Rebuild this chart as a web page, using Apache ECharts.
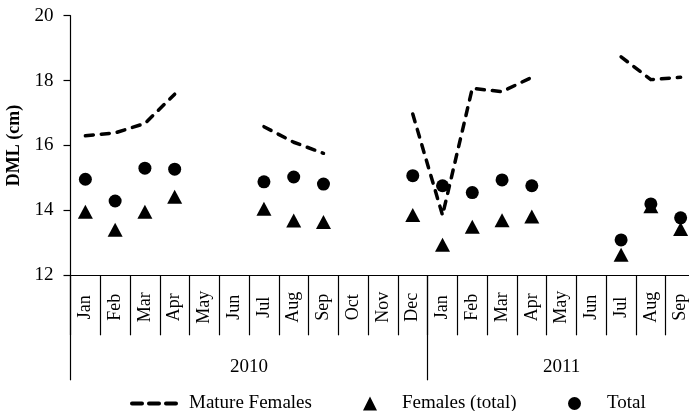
<!DOCTYPE html>
<html>
<head>
<meta charset="utf-8">
<script src="https://cdn.jsdelivr.net/npm/echarts@6/dist/echarts.min.js"></script>
<style>
html,body{margin:0;padding:0;background:#fff;}
#chart{width:689px;height:411px;}
</style>
</head>
<body>
<div id="chart"></div>
<script>
var months = ['Jan','Feb','Mar','Apr','May','Jun','Jul','Aug','Sep','Oct','Nov','Dec',
              'Jan','Feb','Mar','Apr','May','Jun','Jul','Aug','Sep'];
var years = ['2010','2011'];
var yearStart = [0, 12, 21];
var yearMid = [6, 16.5];
var yTicks = [12, 14, 16, 18, 20];

var matureFemales = [16.30, 16.39, 16.68, 17.58, null, null, 16.58, 16.10, 15.76, null, null, 16.97,
                     13.85, 17.76, 17.66, 18.10, null, null, 18.73, 18.03, 18.10];
var femalesTotal = [13.96, 13.40, 13.96, 14.42, null, null, 14.05, 13.69, 13.64, null, null, 13.86,
                    12.94, 13.50, 13.70, 13.81, null, null, 12.63, 14.13, 13.43];
var total = [14.96, 14.29, 15.30, 15.27, null, null, 14.88, 15.03, 14.81, null, null, 15.07,
             14.76, 14.55, 14.94, 14.76, null, null, 13.09, 14.20, 13.77];

var FONT = 'Liberation Serif';
var INK = '#000';
var DASH_ICON = 'path://M2,0h10a2,2 0 0 1 0,4h-10a2,2 0 0 1 0,-4z M19,0h10a2,2 0 0 1 0,4h-10a2,2 0 0 1 0,-4z M36,0h10a2,2 0 0 1 0,4h-10a2,2 0 0 1 0,-4z';

var chart = echarts.init(document.getElementById('chart'), null, {renderer: 'canvas'});
chart.setOption({
  animation: false,
  backgroundColor: '#fff',
  textStyle: {fontFamily: FONT, color: INK},
  grid: {left: 70.5, top: 15.7, width: 625, height: 259.6, outerBoundsMode: 'none', containLabel: false},
  xAxis: [{
    type: 'category',
    data: months,
    boundaryGap: true,
    position: 'bottom',
    axisLine: {show: true, lineStyle: {color: INK, width: 1.2}},
    axisTick: {show: true, interval: 0, length: 60, lineStyle: {color: INK, width: 1.2}},
    axisLabel: {interval: 0, rotate: 90, align: 'center', verticalAlign: 'middle', margin: 32,
                color: INK, fontFamily: FONT, fontSize: 18},
    splitLine: {show: false}
  }, {
    type: 'value',
    min: 0, max: 21,
    position: 'bottom',
    axisLine: {show: false},
    axisTick: {show: true, customValues: yearStart, length: 105, lineStyle: {color: INK, width: 1.2}},
    axisLabel: {show: true, customValues: yearMid, margin: 82, color: INK, fontFamily: FONT, fontSize: 19,
                formatter: function (v) { return v < 12 ? years[0] : years[1]; }},
    splitLine: {show: false}
  }],
  yAxis: {
    type: 'value',
    min: yTicks[0], max: yTicks[yTicks.length - 1], interval: 2,
    name: 'DML (cm)',
    nameLocation: 'middle',
    nameGap: 44,
    nameTextStyle: {color: INK, fontFamily: FONT, fontSize: 18, fontWeight: 'bold'},
    axisLine: {show: true, lineStyle: {color: INK, width: 1.2}},
    axisTick: {show: true, length: 7, lineStyle: {color: INK, width: 1.2}},
    axisLabel: {margin: 17, color: INK, fontFamily: FONT, fontSize: 19},
    splitLine: {show: false}
  },
  legend: [{
    data: [{name: 'Mature Females', icon: DASH_ICON}],
    left: 130, top: 394, padding: 0,
    itemWidth: 48, itemHeight: 4,
    itemStyle: {color: INK},
    textStyle: {color: INK, fontFamily: FONT, fontSize: 19, padding: [0, 0, 0, 6]}
  }, {
    data: [{name: 'Females (total)', icon: 'triangle'}],
    left: 363, top: 394, padding: 0,
    itemWidth: 14, itemHeight: 14,
    itemStyle: {color: INK, opacity: 1},
    textStyle: {color: INK, fontFamily: FONT, fontSize: 19, padding: [0, 0, 0, 20]}
  }, {
    data: [{name: 'Total', icon: 'circle'}],
    left: 568, top: 394, padding: 0,
    itemWidth: 13, itemHeight: 13,
    itemStyle: {color: INK, opacity: 1},
    textStyle: {color: INK, fontFamily: FONT, fontSize: 19, padding: [0, 0, 0, 21]}
  }],
  series: [{
    name: 'Females (total)',
    type: 'scatter',
    data: femalesTotal,
    symbol: 'triangle',
    symbolSize: [15, 14],
    itemStyle: {color: INK, opacity: 1}
  }, {
    name: 'Total',
    type: 'scatter',
    data: total,
    symbol: 'circle',
    symbolSize: 13,
    itemStyle: {color: INK, opacity: 1}
  }, {
    name: 'Mature Females',
    type: 'line',
    data: matureFemales,
    connectNulls: false,
    symbol: 'none',
    showSymbol: false,
    color: INK,
    lineStyle: {color: INK, width: 3.5, type: [8, 8], cap: 'round', join: 'round'},
    z: 3
  }]
});
</script>
</body>
</html>
